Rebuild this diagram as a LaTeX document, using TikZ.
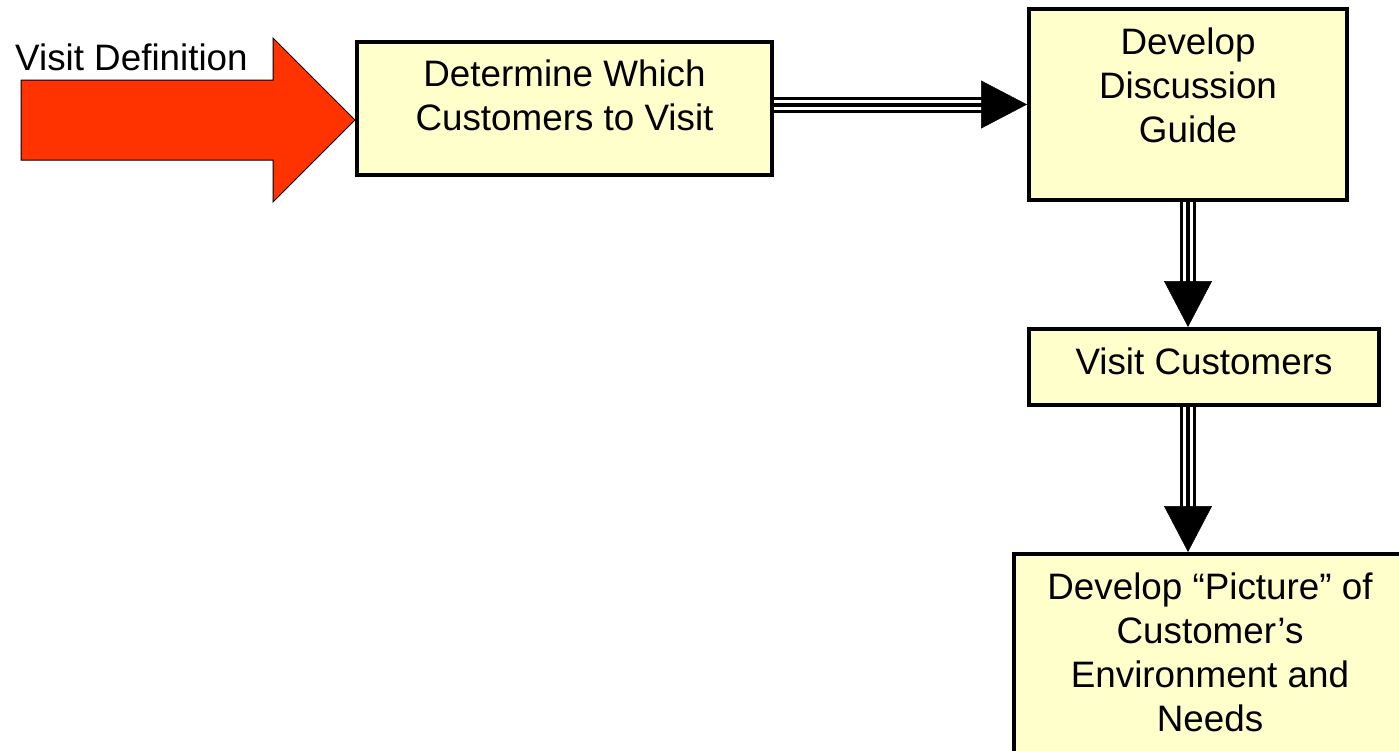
\documentclass[tikz,border=0pt]{standalone}
\usepackage{fontspec}
\setmainfont{Liberation Sans}
\usepackage{xcolor}
\usepackage{tikz}
\usetikzlibrary{arrows.meta}
\definecolor{boxyellow}{HTML}{FFFFCC}
\definecolor{visitred}{HTML}{FF3300}
\tikzstyle{stepbox}=[
    rectangle,
    draw=black,
    line width=4pt,
    fill=boxyellow,
    align=center,
    inner sep=2pt,
    text depth=0pt,
    font=\fontsize{36.8}{44}\selectfont]
\tikzstyle{flow}=[
    -{Triangle[length=46pt,width=48pt]},
    line width=0.5pt,
    preaction={draw=black, -, line width=16pt, shorten >=40pt},
    preaction={draw=white, -, line width=10pt, shorten >=40pt},
    preaction={draw=black, -, line width=4pt, shorten >=40pt}]
\tikzstyle{inarrow}=[
    fill=visitred,
    draw=black,
    line width=1pt,
    line join=miter]

\begin{document}
\begin{tikzpicture}[x=1pt,y=-1pt]
    \useasboundingbox (0,0) rectangle (1399,750);
    \clip (0,0) rectangle (1399,750);

    \node[stepbox, minimum width=415pt, minimum height=133pt, text height=43pt]
      (which) at (564.5,108.5) {Determine Which\\Customers to Visit};
    \node[stepbox, minimum width=318pt, minimum height=191pt, text height=75pt]
      (guide) at (1188,104.5) {Develop\\Discussion\\Guide};
    \node[stepbox, minimum width=350pt, minimum height=76pt, text height=14pt]
      (visit) at (1204,367) {Visit Customers};
    \node[stepbox, minimum width=392pt, minimum height=222pt, text height=132pt]
      (picture) at (1210,665) {Develop “Picture” of\\Customer’s\\Environment and\\Needs};

    % input arrow
    \node[anchor=base west, inner sep=0pt, font=\fontsize{36.8}{44}\selectfont]
      (vdlabel) at (15,70) {Visit Definition};
    \coordinate (vdtip) at (which.west |- 0,120);
    \draw[inarrow] (vdtip) -- ++(-82,-82) -- ++(0,42) -- ++(-252,0) -- ++(0,80)
      -- ++(252,0) -- ++(0,42) -- cycle;

    \draw[flow] (which.east |- guide.west) -- (guide.west);
    \draw[flow] (guide.south) -- (guide.south |- visit.north);
    \draw[flow] (guide.south |- visit.south) -- (guide.south |- picture.north);
\end{tikzpicture}
\end{document}
